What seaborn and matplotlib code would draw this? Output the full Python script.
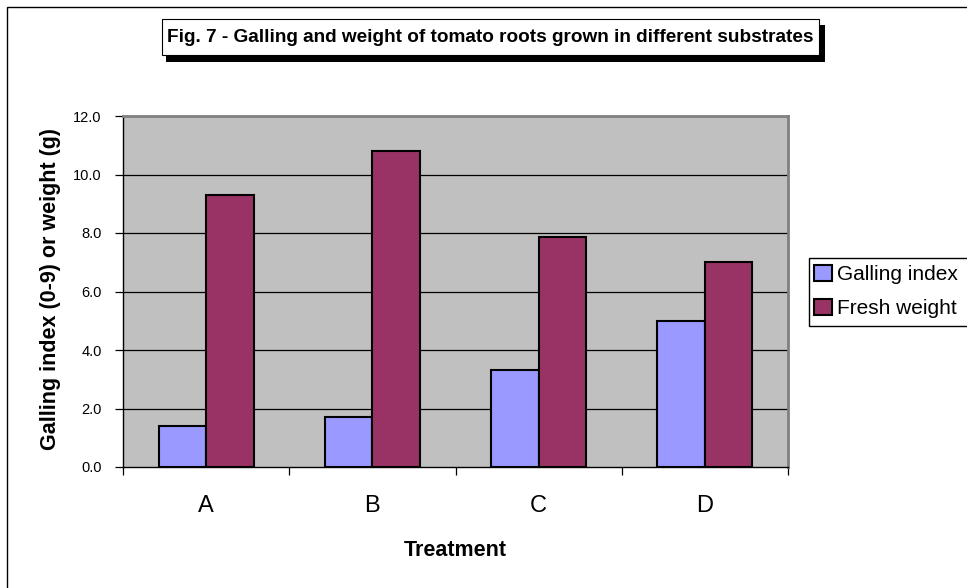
import matplotlib
matplotlib.use("Agg")
import matplotlib.pyplot as plt
from matplotlib.patches import Rectangle
from matplotlib.transforms import ScaledTranslation
import seaborn as sns
import pandas as pd

# Treatment groups and measured values
treatments = ["A", "B", "C", "D"]
galling_index = [1.4, 1.7, 3.3, 5.0]
fresh_weight = [9.3, 10.8, 7.85, 7.0]
series_names = ["Galling index", "Fresh weight"]
y_ticks = [0, 2, 4, 6, 8, 10, 12]

df = pd.DataFrame({
    "Treatment": treatments * 2,
    "Value": galling_index + fresh_weight,
    "Series": [series_names[0]] * len(treatments) + [series_names[1]] * len(treatments),
})

sns.set_theme(style="white")
plt.rcParams["font.family"] = ["Liberation Sans", "DejaVu Sans"]
for key in ["text.color", "axes.labelcolor", "xtick.color", "ytick.color"]:
    plt.rcParams[key] = "black"

W, H = 967, 588
fig = plt.figure(figsize=(W / 100, H / 100), dpi=100)
fig.patch.set_facecolor("white")


def px(x0, y0, x1, y1):
    # pixel box (top-left origin) -> figure fraction [l, b, w, h]
    return [x0 / W, 1 - y1 / H, (x1 - x0) / W, (y1 - y0) / H]


def fig_rect(x0, y0, x1, y1, zorder=-1, **kw):
    fig.patches.append(Rectangle((x0 / W, 1 - y1 / H), (x1 - x0) / W, (y1 - y0) / H,
                                 transform=fig.transFigure, zorder=zorder, **kw))


# outer chart frame
fig_rect(7, 7, 1100, 700, facecolor="none", edgecolor="black", linewidth=1.0)

ax = fig.add_axes(px(123, 116, 788, 467))
palette = {series_names[0]: "#9999FF", series_names[1]: "#993366"}
sns.barplot(data=df, x="Treatment", y="Value", hue="Series", palette=palette,
            width=0.57, edgecolor="black", linewidth=1.5, saturation=1, ax=ax)

ax.set_facecolor("#C0C0C0")
ax.set_ylim(0, 12)
ax.set_xlim(-0.5, len(treatments) - 0.5)
ax.set_yticks(y_ticks)
ax.set_yticklabels([f"{v:.1f}" for v in y_ticks], fontsize=10.5)
for v in y_ticks[1:-1]:
    ax.axhline(v, color="black", linewidth=0.9, zorder=0.5)
ax.set_axisbelow(True)

# y labels sit a little above their gridlines
lift = ScaledTranslation(0, 7 / 100, fig.dpi_scale_trans)
for lab in ax.get_yticklabels():
    lab.set_transform(lab.get_transform() + lift)

# category boundary ticks on the x axis
ax.set_xticks([i - 0.5 for i in range(len(treatments) + 1)], minor=True)
ax.set_xticks(range(len(treatments)))
ax.set_xticklabels(treatments, fontsize=17)
ax.tick_params(axis="x", which="major", length=0, pad=20)
ax.tick_params(axis="x", which="minor", length=6, width=0.9, color="black", direction="out")
ax.tick_params(axis="y", length=5.8, width=0.9, color="black", direction="out", pad=9.5)
ax.yaxis.set_ticks_position("left")
ax.xaxis.set_ticks_position("bottom")

for side in ["left", "bottom"]:
    ax.spines[side].set_color("black")
    ax.spines[side].set_linewidth(1.0)
for side in ["top", "right"]:
    ax.spines[side].set_visible(True)
    ax.spines[side].set_color("#808080")
    ax.spines[side].set_linewidth(2.0)

ax.set_xlabel("Treatment", fontsize=15.5, fontweight="bold")
ax.xaxis.label.set_va("baseline")
ax.xaxis.set_label_coords(0.499, (467 - 556) / 351)
ax.set_ylabel("Galling index (0-9) or weight (g)", fontsize=15.5, fontweight="bold")
ax.yaxis.set_label_coords((61 - 123) / 665, (467 - 288.5) / 351)

# legend: frame runs off the right edge of the chart
fig_rect(809, 258, 1100, 326, facecolor="white", edgecolor="black", linewidth=1.0)
leg = ax.legend(loc="upper left", bbox_to_anchor=(814 / W, 1 - 265 / H),
                bbox_transform=fig.transFigure, frameon=False,
                fontsize=15, handlelength=0.85, handleheight=0.8, handletextpad=0.25,
                borderpad=0, labelspacing=0.7, borderaxespad=0)
for h in leg.legend_handles:
    h.set_edgecolor("black")
    h.set_linewidth(1.5)

# title box with drop shadow
fig_rect(166, 25, 825, 62, facecolor="black", edgecolor="none")
fig_rect(162, 19, 819, 55, facecolor="white", edgecolor="black", linewidth=0.8)
fig.text((162 + 819) / 2 / W, 1 - 37 / H,
         "Fig. 7 - Galling and weight of tomato roots grown in different substrates",
         ha="center", va="center", fontsize=13.7, fontweight="bold")

fig.savefig("out.png", dpi=100)
